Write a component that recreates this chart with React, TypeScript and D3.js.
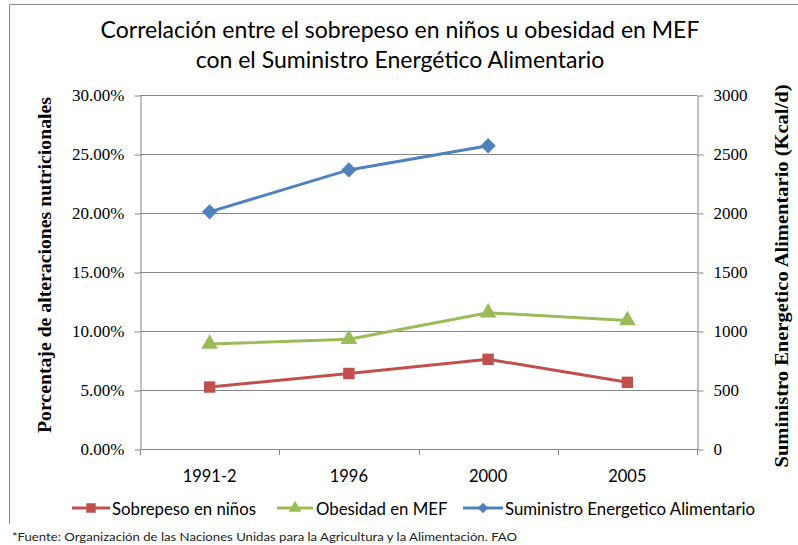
import React, { useEffect, useRef } from "react";
import * as d3 from "d3";

// chart data
const categories = ["1991-2", "1996", "2000", "2005"];
const sobrepeso = [5.25, 6.4, 7.6, 5.65]; // % (left axis)
const obesidad = [8.9, 9.3, 11.55, 10.9]; // % (left axis)
const suministro = [2010, 2365, 2570, null]; // Kcal/d (right axis)
const leftTicks = [0, 5, 10, 15, 20, 25, 30];
const rightTicks = [0, 500, 1000, 1500, 2000, 2500, 3000];
const seriesNames = [
  "Sobrepeso en niños",
  "Obesidad en MEF",
  "Suministro Energetico Alimentario",
];

const RED = "#C0504D";
const GREEN = "#9BBB59";
const BLUE = "#4F81BD";
const GRID = "#868686";
const SANS = "Lato, 'Open Sans', sans-serif";
const SERIF = "'Liberation Serif', 'Times New Roman', serif";

const App = () => {
  const ref = useRef(null);

  useEffect(() => {
    const svg = d3.select(ref.current);
    svg.selectAll("*").remove();

    const W = 798;
    const H = 545;
    const plot = { left: 140, right: 697, top: 95, bottom: 449 };

    const x = d3
      .scaleBand()
      .domain(categories)
      .range([plot.left, plot.right]);
    const cx = (c) => x(c) + x.bandwidth() / 2;
    const yL = d3.scaleLinear().domain([0, 30]).range([plot.bottom, plot.top]);
    const yR = d3
      .scaleLinear()
      .domain([0, 3000])
      .range([plot.bottom, plot.top]);

    svg.append("rect").attr("width", W).attr("height", H).attr("fill", "#fff");

    // chart frame (only left and top edges visible)
    svg
      .append("path")
      .attr("d", "M9.5,524 L9.5,4.5 L800,4.5")
      .attr("fill", "none")
      .attr("stroke", "#8c8c8c")
      .attr("stroke-width", 1);

    // title
    const title = svg
      .append("text")
      .attr("text-anchor", "middle")
      .attr("font-family", SANS)
      .attr("font-size", 23)
      .attr("fill", "#000");
    title.append("tspan").attr("x", 400).attr("y", 38).text(
      "Correlación entre el sobrepeso en niños u obesidad en MEF"
    );
    title
      .append("tspan")
      .attr("x", 400)
      .attr("y", 68)
      .text("con el Suministro Energético Alimentario");

    // gridlines
    svg
      .append("g")
      .selectAll("line")
      .data(leftTicks.filter((t) => t > 0))
      .join("line")
      .attr("x1", plot.left)
      .attr("x2", plot.right)
      .attr("y1", (d) => Math.round(yL(d)) + 0.5)
      .attr("y2", (d) => Math.round(yL(d)) + 0.5)
      .attr("stroke", GRID)
      .attr("stroke-width", 1);

    // left axis
    const leftAxis = svg
      .append("g")
      .attr("transform", `translate(${plot.left + 0.5},0.5)`)
      .call(
        d3
          .axisLeft(yL)
          .tickValues(leftTicks)
          .tickSizeInner(6)
          .tickSizeOuter(0)
          .tickPadding(10)
          .tickFormat((d) => d3.format(".2f")(d) + "%")
      );
    leftAxis.selectAll("path,line").attr("stroke", GRID);
    leftAxis
      .selectAll("text")
      .attr("font-family", SERIF)
      .attr("font-size", 17)
      .attr("fill", "#000");

    // right axis
    const rightAxis = svg
      .append("g")
      .attr("transform", `translate(${plot.right + 0.5},0.5)`)
      .call(
        d3
          .axisRight(yR)
          .tickValues(rightTicks)
          .tickSizeInner(6)
          .tickSizeOuter(0)
          .tickPadding(10)
          .tickFormat(d3.format("d"))
      );
    rightAxis.selectAll("path,line").attr("stroke", GRID);
    rightAxis
      .selectAll("text")
      .attr("font-family", SERIF)
      .attr("font-size", 17)
      .attr("fill", "#000");

    // bottom axis: line, ticks at category boundaries, labels centred
    const bottom = svg.append("g");
    bottom
      .append("line")
      .attr("x1", plot.left)
      .attr("x2", plot.right)
      .attr("y1", plot.bottom + 0.5)
      .attr("y2", plot.bottom + 0.5)
      .attr("stroke", GRID);
    const bounds = categories.map((c) => x(c)).concat([plot.right]);
    bottom
      .selectAll(".btick")
      .data(bounds)
      .join("line")
      .attr("class", "btick")
      .attr("x1", (d) => Math.round(d) + 0.5)
      .attr("x2", (d) => Math.round(d) + 0.5)
      .attr("y1", plot.bottom)
      .attr("y2", plot.bottom + 6)
      .attr("stroke", GRID);
    const xAxis = svg
      .append("g")
      .attr("transform", `translate(0,${plot.bottom})`)
      .call(d3.axisBottom(x).tickSize(0).tickPadding(21));
    xAxis.select(".domain").remove();
    xAxis
      .selectAll("text")
      .attr("font-family", SANS)
      .attr("font-size", 16.5)
      .attr("fill", "#000");

    // axis titles
    svg
      .append("text")
      .attr("transform", "translate(45,265) rotate(-90)")
      .attr("text-anchor", "middle")
      .attr("dominant-baseline", "central")
      .attr("font-family", SERIF)
      .attr("font-weight", "bold")
      .attr("font-size", 18)
      .attr("textLength", 336)
      .attr("lengthAdjust", "spacingAndGlyphs")
      .text("Porcentaje de alteraciones nutricionales");
    svg
      .append("text")
      .attr("transform", "translate(782,276) rotate(-90)")
      .attr("text-anchor", "middle")
      .attr("dominant-baseline", "central")
      .attr("font-family", SERIF)
      .attr("font-weight", "bold")
      .attr("font-size", 18)
      .attr("textLength", 383)
      .attr("lengthAdjust", "spacingAndGlyphs")
      .text("Suministro Energetico Alimentario (Kcal/d)");

    // markers
    const square = d3.symbol().type(d3.symbolSquare).size(130);
    const triangle = d3.symbol().type(d3.symbolTriangle).size(120);
    const diamond = d3.symbol().type(d3.symbolDiamond2).size(150);

    const series = [
      { values: sobrepeso, y: yL, color: RED, sym: square },
      { values: obesidad, y: yL, color: GREEN, sym: triangle },
      { values: suministro, y: yR, color: BLUE, sym: diamond },
    ];

    series.forEach((s) => {
      const pts = categories
        .map((c, i) => ({ c, v: s.values[i] }))
        .filter((p) => p.v != null);
      const line = d3
        .line()
        .x((p) => cx(p.c))
        .y((p) => s.y(p.v));
      svg
        .append("path")
        .attr("d", line(pts))
        .attr("fill", "none")
        .attr("stroke", s.color)
        .attr("stroke-width", 3)
        .attr("stroke-linejoin", "round");
      svg
        .append("g")
        .selectAll("path")
        .data(pts)
        .join("path")
        .attr("transform", (p) => `translate(${cx(p.c)},${s.y(p.v)})`)
        .attr("d", s.sym())
        .attr("fill", s.color);
    });

    // legend
    const legendItems = [
      { x0: 72, x1: 110, tx: 112, color: RED, sym: d3.symbol().type(d3.symbolSquare).size(90) },
      { x0: 277, x1: 313, tx: 316, color: GREEN, sym: d3.symbol().type(d3.symbolTriangle).size(70) },
      { x0: 463, x1: 503, tx: 505, color: BLUE, sym: d3.symbol().type(d3.symbolDiamond2).size(70) },
    ];
    const ly = 508;
    const legend = svg
      .append("g")
      .selectAll("g")
      .data(legendItems)
      .join("g");
    legend
      .append("line")
      .attr("x1", (d) => d.x0)
      .attr("x2", (d) => d.x1)
      .attr("y1", ly)
      .attr("y2", ly)
      .attr("stroke", (d) => d.color)
      .attr("stroke-width", 3);
    legend
      .append("path")
      .attr("transform", (d) => `translate(${(d.x0 + d.x1) / 2},${ly})`)
      .attr("d", (d) => d.sym())
      .attr("fill", (d) => d.color);
    legend
      .append("text")
      .attr("x", (d) => d.tx)
      .attr("y", ly)
      .attr("dominant-baseline", "central")
      .attr("font-family", SANS)
      .attr("font-size", 16.8)
      .attr("fill", "#000")
      .text((d, i) => seriesNames[i]);

    // source note
    svg
      .append("text")
      .attr("x", 12)
      .attr("y", 541)
      .attr("font-family", SANS)
      .attr("font-size", 12)
      .attr("textLength", 505)
      .attr("lengthAdjust", "spacingAndGlyphs")
      .attr("fill", "#222")
      .text(
        "*Fuente: Organización de las Naciones Unidas para la Agricultura y la Alimentación. FAO"
      );
  }, []);

  return (
    <svg
      ref={ref}
      width={798}
      height={545}
      viewBox="0 0 798 545"
      style={{ position: "absolute", left: 0, top: 0 }}
    />
  );
};

export default App;
